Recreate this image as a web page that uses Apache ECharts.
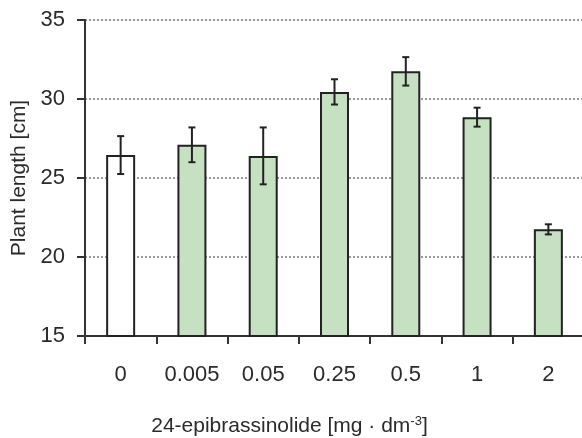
<!DOCTYPE html>
<html><head><meta charset="utf-8">
<script src="https://cdn.jsdelivr.net/npm/echarts@6/dist/echarts.min.js"></script>
<style>html,body{margin:0;padding:0;background:#fff}#c{width:582px;height:438px}</style>
</head><body><div id="c"></div>
<script>
const categories = ['0', '0.005', '0.05', '0.25', '0.5', '1', '2'];
const means = [26.45, 27.1, 26.4, 30.45, 31.75, 28.85, 21.75];
const errors = [1.2, 1.1, 1.8, 0.8, 0.9, 0.6, 0.32];
const yTicks = [15, 20, 25, 30, 35];

const FONT = '"Liberation Sans", Arial, sans-serif';
const TXT = '#2a2a2a';
const chart = echarts.init(document.getElementById('c'), null, {renderer: 'canvas'});
chart.setOption({
  animation: false,
  backgroundColor: '#fff',
  grid: {left: 85, top: 20, width: 499, height: 316, containLabel: false, outerBoundsMode: 'none'},
  xAxis: {
    type: 'category', data: categories,
    axisLine: {lineStyle: {color: '#333', width: 2}},
    axisTick: {show: true, length: 8, alignWithLabel: false, lineStyle: {color: '#333', width: 2}},
    axisLabel: {color: TXT, fontSize: 22, fontFamily: FONT, margin: 28, interval: 0, hideOverlap: false},
    name: '24-epibrassinolide [mg · dm{sup|-3}]',
    nameLocation: 'middle', nameGap: 79,
    nameTextStyle: {color: TXT, fontSize: 21, fontFamily: FONT, padding: [0, 90, 0, 0],
      rich: {sup: {fontSize: 13, fontFamily: FONT, color: TXT, verticalAlign: 'top', padding: [0, 0, 10, 0]}}}
  },
  yAxis: {
    type: 'value', min: yTicks[0], max: yTicks[yTicks.length - 1], interval: 5,
    axisLine: {show: true, lineStyle: {color: '#333', width: 2}},
    axisTick: {show: true, length: 8, lineStyle: {color: '#333', width: 2}},
    axisLabel: {color: TXT, fontSize: 22, fontFamily: FONT, margin: 20},
    splitLine: {show: true, lineStyle: {color: '#777', type: [2, 2], width: 1.5}},
    name: 'Plant length [cm]', nameLocation: 'middle', nameGap: 51,
    nameTextStyle: {color: TXT, fontSize: 21, fontFamily: FONT}
  },
  series: [
    {
      type: 'bar', barWidth: 29,
      data: means.map((v, i) => ({value: v, itemStyle: {color: i === 0 ? '#ffffff' : '#c6e0c2'}})),
      itemStyle: {borderColor: '#222', borderWidth: 2},
      z: 2
    },
    {
      type: 'custom',
      data: means.map((v, i) => [i, v - errors[i], v + errors[i]]),
      renderItem: function (params, api) {
        const lo = api.coord([api.value(0), api.value(1)]);
        const hi = api.coord([api.value(0), api.value(2)]);
        const hw = 3.5;
        const st = {stroke: '#222', lineWidth: 2};
        return {type: 'group', children: [
          {type: 'line', shape: {x1: lo[0], y1: lo[1], x2: hi[0], y2: hi[1]}, style: st},
          {type: 'line', shape: {x1: lo[0] - hw, y1: lo[1], x2: lo[0] + hw, y2: lo[1]}, style: st},
          {type: 'line', shape: {x1: hi[0] - hw, y1: hi[1], x2: hi[0] + hw, y2: hi[1]}, style: st}
        ]};
      },
      z: 3
    }
  ]
});
</script></body></html>
